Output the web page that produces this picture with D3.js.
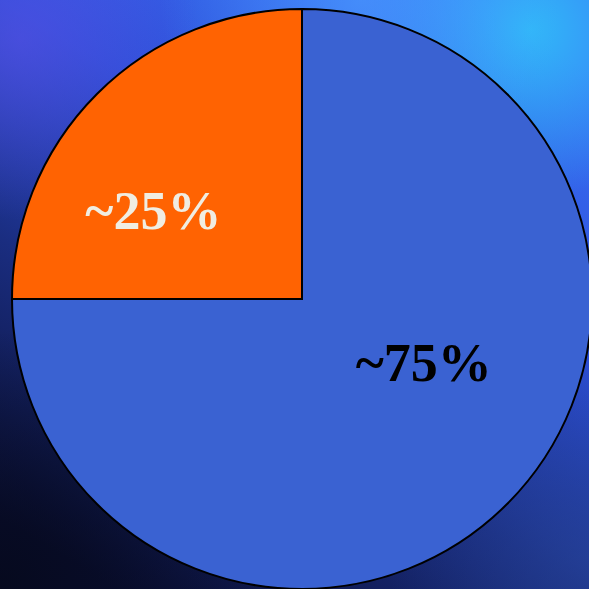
<!DOCTYPE html>
<html><head><meta charset="utf-8">
<script src="https://cdn.jsdelivr.net/npm/d3@7"></script>
<style>html,body{margin:0;padding:0;background:#13205a;overflow:hidden}</style>
</head><body>
<script>
const categories = ["Majority", "Minority"];
const values = [75, 25];
const labels = ["~75%", "~25%"];
const colors = ["#3a62d2", "#ff6302"];
const labelColors = ["#000000", "#f0ede2"];

const W = 589, H = 589;
const svg = d3.select("body").append("svg").attr("width", W).attr("height", H);
const defs = svg.append("defs");

const lin = defs.append("linearGradient").attr("id","bg").attr("x1","0.8").attr("y1","0").attr("x2","0.2").attr("y2","1");
[["0","#3a70f8"],["0.35","#2c4fd6"],["0.65","#1a2d80"],["1","#0a0f35"]].forEach(s=>lin.append("stop").attr("offset",s[0]).attr("stop-color",s[1]));
svg.append("rect").attr("width",W).attr("height",H).attr("fill","url(#bg)");

function glow(id,cx,cy,r,col,op){
  const g = defs.append("radialGradient").attr("id",id).attr("gradientUnits","userSpaceOnUse")
    .attr("cx",cx).attr("cy",cy).attr("r",r);
  g.append("stop").attr("offset","0").attr("stop-color",col).attr("stop-opacity",op);
  g.append("stop").attr("offset","1").attr("stop-color",col).attr("stop-opacity",0);
  svg.append("rect").attr("width",W).attr("height",H).attr("fill",`url(#${id})`);
}
glow("g1",530,30,170,"#30c0f8",0.9);
glow("g2",360,0,200,"#4a9cff",0.7);
glow("g3",20,40,180,"#5a50e8",0.6);
glow("g4",0,589,260,"#050818",0.8);
glow("g5",589,560,200,"#2a4aa0",0.5);

const cx = 302, cy = 299, R = 290;
const g = svg.append("g").attr("transform",`translate(${cx},${cy})`);
const pie = d3.pie().sort(null).value(d=>d.value);
const arcs = pie(values.map((v,i)=>({name:categories[i], value:v, i})));
const arc = d3.arc().innerRadius(0).outerRadius(R);

g.selectAll("path.slice").data(arcs).join("path")
  .attr("class","slice").attr("d",arc)
  .attr("fill",d=>colors[d.data.i]).attr("stroke","#000").attr("stroke-width",2)
  .attr("stroke-linejoin","miter");

// label placement: angle (deg, clockwise from top) and radius fraction
const labelPlace = [[119,0.48],[299.7,0.59]];
g.selectAll("text.lbl").data(arcs).join("text")
  .attr("class","lbl")
  .attr("x",d=>{const p=labelPlace[d.data.i];return Math.sin(p[0]*Math.PI/180)*p[1]*R;})
  .attr("y",d=>{const p=labelPlace[d.data.i];return -Math.cos(p[0]*Math.PI/180)*p[1]*R - 3;})
  .attr("text-anchor","middle").attr("dominant-baseline","central")
  .attr("font-family","'Times New Roman','Liberation Serif',Times,serif")
  .attr("font-weight","bold").attr("font-size",54)
  .attr("fill",d=>labelColors[d.data.i])
  .text(d=>labels[d.data.i]);
</script>
</body></html>
